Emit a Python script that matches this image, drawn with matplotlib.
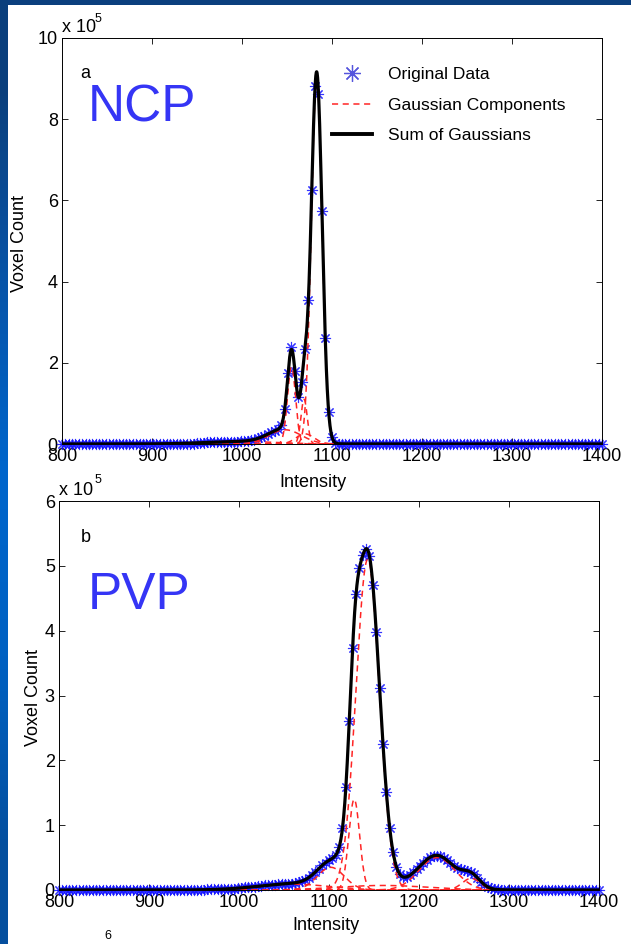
import numpy as np
import matplotlib.pyplot as plt
from matplotlib.lines import Line2D

plt.rcParams["font.family"] = ["Liberation Sans", "DejaVu Sans"]
plt.rcParams["mathtext.fontset"] = "custom"
plt.rcParams["mathtext.rm"] = "Liberation Sans"
plt.rcParams["mathtext.default"] = "regular"

# intensity bins of the histograms
intensity = np.linspace(800, 1400, 161)

# voxel counts (x 1e5), zero outside the listed block
ncp_start = 950
ncp_counts = [0.03, 0.03, 0.03, 0.04, 0.04, 0.04, 0.05, 0.05, 0.05, 0.06,
              0.06, 0.06, 0.06, 0.07, 0.07, 0.08, 0.10, 0.11, 0.14, 0.17,
              0.20, 0.24, 0.29, 0.32, 0.36, 0.47, 0.87, 1.75, 2.38, 1.80,
              1.15, 1.53, 2.35, 3.55, 6.25, 8.82, 8.62, 5.74, 2.61, 0.80,
              0.17, 0.02]

pvp_start = 965
pvp_counts = [0.01, 0.01, 0.01, 0.01, 0.01, 0.02, 0.02, 0.02, 0.02, 0.03,
              0.03, 0.04, 0.04, 0.05, 0.05, 0.06, 0.06, 0.07, 0.07, 0.08,
              0.08, 0.09, 0.09, 0.10, 0.10, 0.10, 0.11, 0.12, 0.14, 0.16,
              0.19, 0.23, 0.28, 0.33, 0.38, 0.42, 0.46, 0.49, 0.54, 0.66,
              0.96, 1.59, 2.61, 3.74, 4.56, 4.96, 5.16, 5.26, 5.15, 4.71,
              3.98, 3.11, 2.25, 1.51, 0.95, 0.58, 0.35, 0.24, 0.20, 0.20,
              0.23, 0.27, 0.32, 0.37, 0.42, 0.47, 0.51, 0.53, 0.53, 0.52,
              0.50, 0.46, 0.41, 0.37, 0.34, 0.32, 0.31, 0.30, 0.28, 0.24,
              0.19, 0.13, 0.08, 0.05, 0.03, 0.01, 0.01]

# fitted gaussian components: amplitude (x 1e5), centre, sigma
ncp_amp = [9.0, 1.9, 1.1, 0.35, 0.06, 0.25]
ncp_mu = [1083, 1055, 1069, 1048, 1000, 1070]
ncp_sigma = [6.0, 4.5, 3.5, 18, 40, 10]

pvp_amp = [5.1, 1.4, 0.35, 0.5, 0.18, 0.07, 0.09]
pvp_mu = [1143, 1128, 1102, 1220, 1258, 1160, 1060]
pvp_sigma = [13, 6, 15, 20, 10, 50, 40]

W, H = 631, 944
BLUE = "#1010FF"
RED = "#FF2525"


def full_counts(start, values):
    y = np.zeros_like(intensity)
    i0 = int(round((start - intensity[0]) / (intensity[1] - intensity[0])))
    y[i0:i0 + len(values)] = values
    return y


def draw_panel(ax, counts, amp, mu, sigma, ymax, ystep):
    xs = np.linspace(800, 1400, 2401)
    comps = [a * np.exp(-(xs - m) ** 2 / (2 * s ** 2))
             for a, m, s in zip(amp, mu, sigma)]

    ax.plot(intensity, counts, linestyle="none", marker=(8, 2, 0),
            markersize=8, markeredgewidth=0.8, color=BLUE, alpha=0.85,
            clip_on=False, zorder=2)
    for c in comps:
        ax.plot(xs, c, color=RED, linewidth=1.1, dashes=(4, 3), zorder=3)
    ax.plot(xs, np.sum(comps, axis=0), color="black", linewidth=2.3, zorder=4)

    ax.set_xlim(800, 1400)
    ax.set_ylim(0, ymax)
    ax.set_xticks(np.arange(800, 1401, 100))
    ax.set_yticks(np.arange(0, ymax + 0.1, ystep))
    ax.tick_params(direction="in", top=True, right=True, length=4,
                   width=0.6, labelsize=13, pad=3)
    for sp in ax.spines.values():
        sp.set_linewidth(0.7)
    ax.set_xlabel("Intensity", fontsize=13)
    ax.set_ylabel("Voxel Count", fontsize=13)


fig = plt.figure(figsize=(W / 100, H / 100), dpi=100)
fig.patch.set_facecolor("white")

# slide decoration: dark top band and blue left stripe
band = fig.add_axes([0, 1 - 5 / H, 1, 5 / H])
band.set_axis_off()
band.add_patch(plt.Rectangle((0, 0), 1, 1, color="#0B3F7E", transform=band.transAxes))
stripe = fig.add_axes([0, 0, 8 / W, 1])
grad = np.array([[0.04, 0.25, 0.49], [0.03, 0.33, 0.66], [0.0, 0.40, 0.80],
                 [0.0, 0.38, 0.76], [0.02, 0.31, 0.62]])
stripe.imshow(grad[:, None, :], aspect="auto", interpolation="bilinear",
              extent=(0, 1, 0, 1))
stripe.set_axis_off()

# top panel (NCP)
ax1 = fig.add_axes([62 / W, 1 - 444 / H, 540 / W, 406 / H])
draw_panel(ax1, full_counts(ncp_start, ncp_counts), ncp_amp, ncp_mu, ncp_sigma, 10, 2)
ax1.xaxis.set_label_coords(0.465, -0.094)
ax1.xaxis.label.set_va("center")
ax1.yaxis.set_label_coords(-0.078, 0.495)
ax1.yaxis.label.set_va("center")
ax1.text(0.0, 1.015, "x 10", transform=ax1.transAxes, fontsize=13, va="baseline")
ax1.text(0.061, 1.039, "5", transform=ax1.transAxes, fontsize=9, va="baseline")
ax1.text(0.033, 0.912, "a", transform=ax1.transAxes, fontsize=13, va="center")
ax1.text(0.148, 0.828, "NCP", transform=ax1.transAxes, fontsize=37,
         color="#3535F5", ha="center", va="center")

handles = [
    Line2D([], [], linestyle="none", marker=(8, 2, 0), markersize=12,
           markeredgewidth=0.9, color="#5555DD"),
    Line2D([], [], color=RED, linewidth=1.1, dashes=(4, 3)),
    Line2D([], [], color="black", linewidth=2.8),
]
ax1.legend(handles, ["Original Data", "Gaussian Components", "Sum of Gaussians"],
           loc="upper left", bbox_to_anchor=(0.5, 0.928), frameon=False,
           fontsize=12.5, handlelength=2.3, handletextpad=0.9,
           labelspacing=0.87, borderpad=0, borderaxespad=0)

# bottom panel (PVP)
ax2 = fig.add_axes([59 / W, 1 - 890 / H, 540 / W, 389 / H])
draw_panel(ax2, full_counts(pvp_start, pvp_counts), pvp_amp, pvp_mu, pvp_sigma, 6, 1)
ax2.xaxis.set_label_coords(0.494, -0.0925)
ax2.xaxis.label.set_va("center")
ax2.yaxis.set_label_coords(-0.048, 0.496)
ax2.yaxis.label.set_va("center")
ax2.text(0.0, 1.015, "x 10", transform=ax2.transAxes, fontsize=13, va="baseline")
ax2.text(0.065, 1.046, "5", transform=ax2.transAxes, fontsize=9, va="baseline")
ax2.text(0.040, 0.907, "b", transform=ax2.transAxes, fontsize=13, va="center")
ax2.text(0.148, 0.758, "PVP", transform=ax2.transAxes, fontsize=37,
         color="#3535F5", ha="center", va="center")

# exponent of the next (cut off) panel
fig.text(104 / W, 1 - 930 / H, "6", fontsize=9, va="top")

fig.savefig("out.png", dpi=100)
